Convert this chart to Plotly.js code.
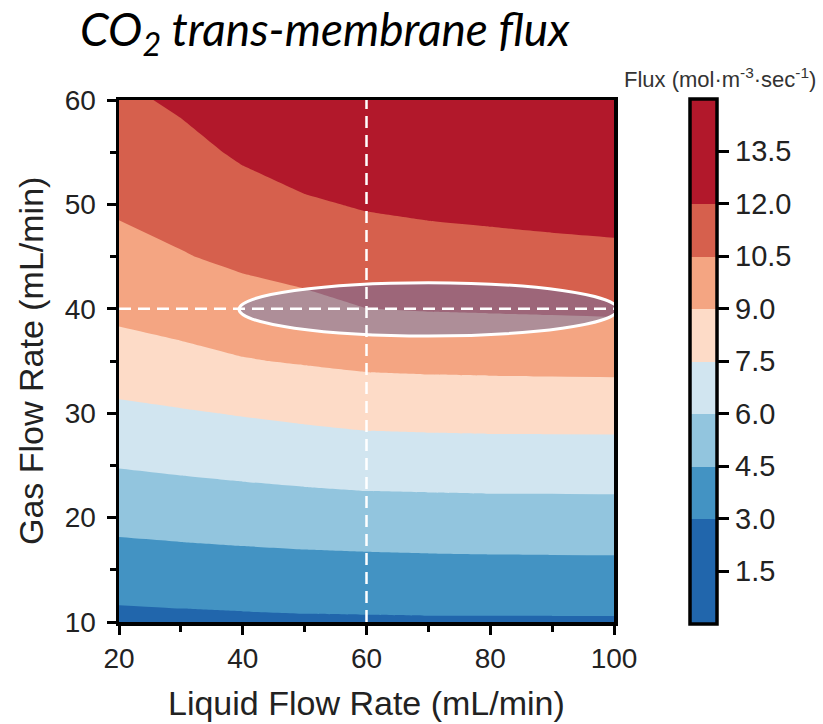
<!DOCTYPE html>
<html>
<head>
<meta charset="utf-8">
<script src="https://cdn.plot.ly/plotly-3.0.1.min.js"></script>
<style>
  html, body { margin: 0; padding: 0; background: #ffffff; }
  #chart { width: 823px; height: 724px; }
</style>
</head>
<body>
<div id="chart"></div>
<script>
// Liquid flow rate (mL/min) grid columns
const liquidFlow = [20, 30, 40, 50, 60, 70, 80, 90, 100];
// Gas flow rate (mL/min) grid rows
const gasFlow = [10, 15, 20, 25, 30, 35, 40, 45, 50, 55, 60];
// CO2 trans-membrane flux (mol·m^-3·sec^-1), one row per gas flow rate
const flux = [
  [2.63, 2.70, 2.76, 2.81, 2.83, 2.85, 2.85, 2.85, 2.85],
  [3.78, 3.87, 3.95, 4.02, 4.06, 4.10, 4.12, 4.14, 4.14],
  [4.93, 5.05, 5.16, 5.26, 5.34, 5.38, 5.41, 5.41, 5.43],
  [6.07, 6.23, 6.38, 6.52, 6.64, 6.67, 6.70, 6.70, 6.71],
  [7.19, 7.38, 7.58, 7.77, 7.94, 8.00, 8.03, 8.04, 8.04],
  [8.36, 8.63, 8.92, 9.11, 9.29, 9.35, 9.38, 9.41, 9.43],
  [9.33, 9.58, 9.92, 10.16, 10.49, 10.57, 10.61, 10.65, 10.70],
  [10.04, 10.42, 10.78, 11.04, 11.31, 11.43, 11.52, 11.62, 11.70],
  [10.70, 11.01, 11.48, 11.84, 12.11, 12.26, 12.36, 12.45, 12.53],
  [11.27, 11.62, 12.18, 12.64, 12.86, 12.94, 13.00, 13.08, 13.12],
  [11.75, 12.20, 12.88, 13.40, 13.40, 13.42, 13.44, 13.46, 13.47]
];
// Contour levels
const levelStart = 1.5, levelEnd = 13.5, levelStep = 1.5;
// Colour-bar span and labels
const barMin = 0, barMax = 15;
const barTicks = [1.5, 3.0, 4.5, 6.0, 7.5, 9.0, 10.5, 12.0, 13.5];
const barTickText = ['1.5', '3.0', '4.5', '6.0', '7.5', '9.0', '10.5', '12.0', '13.5'];
// Band edges on the colour bar and the colour of each band, lowest first
const bandEdges = [0, 3, 4.5, 6, 7.5, 9, 10.5, 12, 15];
const bandColors = ['#2166ac', '#4393c3', '#92c5de', '#d1e5f0',
                    '#fddbc7', '#f4a582', '#d6604d', '#b2182b'];
// Operating point highlighted on the map
const opLiquid = 60, opGas = 40;
const ellipseX = [39.4, 100.6], ellipseY = [37.4, 42.5];

const baseFont = 'Liberation Sans, Arial, sans-serif';

// Colour of each filled contour band, looked up from the band a level falls in
function bandColorAt(v) {
  for (let i = 0; i < bandColors.length; i++) {
    if (v < bandEdges[i + 1]) return bandColors[i];
  }
  return bandColors[bandColors.length - 1];
}
// Contour fill: one colour stop per band centre (below start ... above end)
const fillCenters = [];
for (let v = levelStart - levelStep / 2; v <= levelEnd + levelStep / 2 + 1e-9; v += levelStep) fillCenters.push(v);
const contourScale = fillCenters.map((v, i) => [i / (fillCenters.length - 1), bandColorAt(v)]);

// Stepped scale for the colour bar over [barMin, barMax]
const barScale = [];
bandColors.forEach((c, i) => {
  barScale.push([(bandEdges[i] - barMin) / (barMax - barMin), c]);
  barScale.push([(bandEdges[i + 1] - barMin) / (barMax - barMin), c]);
});

const contour = {
  type: 'contour',
  x: liquidFlow,
  y: gasFlow,
  z: flux,
  autocontour: false,
  contours: { start: levelStart, end: levelEnd, size: levelStep, coloring: 'fill', showlines: false },
  line: { width: 0, smoothing: 0 },
  colorscale: contourScale,
  showscale: false,
  hoverinfo: 'x+y+z'
};

// Carrier for the flux colour bar (its marker is transparent)
const scaleCarrier = {
  type: 'scatter', mode: 'markers',
  x: [liquidFlow[0]], y: [gasFlow[0]],
  marker: {
    size: 1, opacity: 0, color: [barMin],
    cmin: barMin, cmax: barMax, colorscale: barScale, showscale: true,
    colorbar: {
      x: 1.1535, xanchor: 'left', xref: 'paper', xpad: 0,
      y: 0.5, yanchor: 'middle', ypad: 0,
      len: 1.005, lenmode: 'fraction',
      thickness: 27,
      outlinewidth: 3.5, outlinecolor: '#000000',
      tickvals: barTicks, ticktext: barTickText,
      ticks: 'outside', ticklen: 11, tickwidth: 3, tickcolor: '#000000',
      tickfont: { family: baseFont, size: 29, color: '#222222' }
    }
  },
  hoverinfo: 'skip', showlegend: false
};

const dashWhite = { color: '#ffffff', width: 2.5, dash: '12px,7px' };

const layout = {
  width: 823, height: 724, autosize: false,
  margin: { l: 119, r: 209, t: 100, b: 102, pad: 0 },
  paper_bgcolor: '#ffffff', plot_bgcolor: '#ffffff',
  font: { family: baseFont, color: '#222222' },
  showlegend: false,
  title: {
    text: 'CO<sub>2</sub> trans-membrane flux',
    font: { family: 'Lato, Open Sans, sans-serif', size: 46, style: 'italic', color: '#000000' },
    x: 80 / 823, xanchor: 'left', xref: 'container',
    y: 1 - 30 / 724, yanchor: 'middle', yref: 'container'
  },
  xaxis: {
    range: [20, 100], tickvals: [20, 40, 60, 80, 100],
    showline: true, linewidth: 3.5, linecolor: '#000000', mirror: true,
    ticks: 'outside', ticklen: 9, tickwidth: 3, tickcolor: '#000000',
    minor: { tickvals: [30, 50, 70, 90], ticks: 'outside', ticklen: 6, tickwidth: 3, tickcolor: '#000000' },
    tickfont: { size: 28, color: '#222222' },
    showgrid: false, zeroline: false, fixedrange: true
  },
  yaxis: {
    range: [10, 60], tickvals: [10, 20, 30, 40, 50, 60],
    showline: true, linewidth: 3.5, linecolor: '#000000', mirror: true,
    ticks: 'outside', ticklen: 9, tickwidth: 3, tickcolor: '#000000',
    minor: { tickvals: [15, 25, 35, 45, 55], ticks: 'outside', ticklen: 6, tickwidth: 3, tickcolor: '#000000' },
    tickfont: { size: 28, color: '#222222' },
    ticklabelstandoff: 5,
    showgrid: false, zeroline: false, fixedrange: true
  },
  shapes: [
    {
      type: 'circle', xref: 'x', yref: 'y',
      x0: ellipseX[0], x1: ellipseX[1], y0: ellipseY[0], y1: ellipseY[1],
      fillcolor: 'rgba(82,112,181,0.43)', line: { color: '#ffffff', width: 3 }
    },
    { type: 'line', xref: 'x', yref: 'y', x0: opLiquid, x1: opLiquid, y0: 10, y1: 60, line: dashWhite },
    { type: 'line', xref: 'x', yref: 'y', x0: 20, x1: 100, y0: opGas, y1: opGas, line: dashWhite }
  ],
  annotations: [
    {
      text: 'Liquid Flow Rate (mL/min)', showarrow: false,
      xref: 'paper', yref: 'paper', x: 0.5, y: -(703 - 622) / 522,
      xanchor: 'center', yanchor: 'middle',
      font: { family: baseFont, size: 34, color: '#222222' }
    },
    {
      text: 'Gas Flow Rate (mL/min)', showarrow: false, textangle: -90,
      xref: 'paper', yref: 'paper', x: (31 - 119) / 495, y: 0.5,
      xanchor: 'center', yanchor: 'middle',
      font: { family: baseFont, size: 34, color: '#222222' }
    },
    {
      text: 'Flux (mol·m<sup>-3</sup>·sec<sup>-1</sup>)', showarrow: false,
      xref: 'paper', yref: 'paper', x: (720 - 119) / 495, y: 1 + (100 - 78) / 522,
      xanchor: 'center', yanchor: 'middle',
      font: { family: baseFont, size: 22, color: '#333333' }
    }
  ]
};

Plotly.newPlot('chart', [contour, scaleCarrier], layout, { staticPlot: true, displayModeBar: false });
</script>
</body>
</html>
